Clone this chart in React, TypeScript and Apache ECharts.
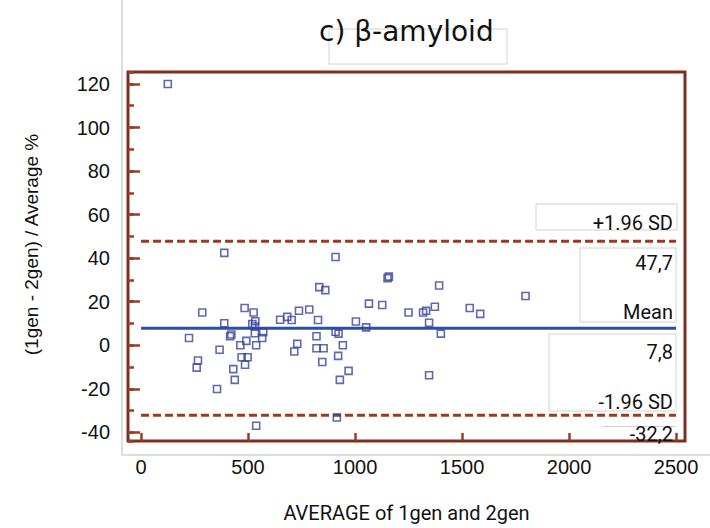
import React, { useEffect, useRef } from "react";
import * as echarts from "echarts";

// Average of 1gen and 2gen (x) and percentage difference (y)
const averageValues: number[] = [
  125,
  389, 286, 224, 389, 422, 416, 484, 526, 534, 520, 532, 571, 532, 566, 492, 464, 538, 367, 266, 260,
  470, 498, 486, 431, 438, 355, 538,
  650, 909, 833, 861, 1158, 1152, 1065, 1127, 1250, 738, 786, 683, 704, 827, 1004, 1052, 909, 923,
  820, 730, 716, 820, 853, 943, 921, 847, 970, 929, 915,
  1318, 1332, 1373, 1393, 1346, 1401, 1346, 1536, 1585, 1797,
];
const percentDiffs: number[] = [
  120,
  42.4, 15, 3.3, 10.1, 4.9, 4.1, 17.1, 15, 11, 9.7, 8.6, 6, 5.5, 3.3, 2, 0, 0, -2.1, -7, -10.3,
  -5.5, -5.5, -9, -11, -15.9, -20.1, -37,
  11.7, 40.5, 26.7, 25.3, 31.5, 30.8, 19.1, 18.5, 15, 15.8, 16.4, 13, 11.6, 11.6, 10.9, 8.2, 6.2, 5.3,
  4.1, 0.6, -2.9, -1.4, -1.4, 0, -4.9, -7.7, -11.8, -15.9, -33.2,
  15, 15.8, 17.7, 27.4, 10.3, 5.3, -13.8, 17.1, 14.4, 22.6,
];

const meanDiff = 7.8;
const upperLimit = 47.7;
const lowerLimit = -32.2;
const lineRange: number[] = [0, 2500];

const xMin = -61;
const xMax = 2542;
const yMin = -44;
const yMax = 125.5;

const titleText = "c) β-amyloid";
const xName = "AVERAGE of 1gen and 2gen";
const yName = "(1gen - 2gen) / Average %";
const upperLabel = "+1.96 SD";
const meanLabel = "Mean";
const lowerLabel = "-1.96 SD";

const fmt = (v: number) => v.toFixed(1).replace(".", ",");

const FRAME = "#7a2f20";
const TICK = "#9a3c24";
const DASH = "#9c3a1f";
const MEAN = "#2c4ea3";
const POINT = "#37449b";
const BOX = "#d2d2d2";

export default function App() {
  const ref = useRef<HTMLDivElement>(null);

  useEffect(() => {
    if (!ref.current) return;
    const chart = echarts.init(ref.current, undefined, { renderer: "svg" });
    const points = averageValues.map((x, i) => [x, percentDiffs[i]]);
    const labelFont = { fontSize: 20, fontFamily: "Roboto", fill: "#111" };

    chart.setOption({
      animation: false,
      backgroundColor: "#fff",
      title: {
        text: titleText,
        left: 314,
        top: 12,
        textStyle: { fontSize: 28, fontWeight: "normal", fontFamily: "DejaVu Sans", color: "#111" },
        z: 10,
      },
      grid: {
        left: 128,
        top: 72,
        right: 25,
        bottom: 83,
        show: true,
        borderColor: FRAME,
        borderWidth: 3,
        backgroundColor: "transparent",
      },
      xAxis: {
        type: "value",
        min: xMin,
        max: xMax,
        minInterval: 500,
        maxInterval: 500,
        splitNumber: 5,
        axisLine: { show: false, onZero: false },
        axisTick: { show: true, inside: true, length: 8, lineStyle: { color: TICK, width: 2.5 } },
        axisLabel: {
          margin: 16,
          fontSize: 20,
          fontFamily: "Liberation Sans",
          color: "#111",
          showMinLabel: false,
          showMaxLabel: false,
          formatter: (v: number) => String(v),
        },
        splitLine: { show: false },
        name: xName,
        nameLocation: "middle",
        nameGap: 62,
        nameTextStyle: { fontSize: 20, fontFamily: "Roboto", color: "#111" },
      },
      yAxis: [
        {
          type: "value",
          min: yMin,
          max: yMax,
          minInterval: 20,
          maxInterval: 20,
          splitNumber: 8,
          axisLine: { show: false, onZero: false },
          axisTick: { show: true, inside: true, length: 12, lineStyle: { color: TICK, width: 2.5 } },
          axisLabel: {
            margin: 18,
            fontSize: 20,
            fontFamily: "Liberation Sans",
            color: "#111",
            showMinLabel: false,
            showMaxLabel: false,
            formatter: (v: number) => String(v),
          },
          splitLine: { show: false },
          name: yName,
          nameLocation: "middle",
          nameGap: 87,
          nameTextStyle: { fontSize: 19, fontFamily: "Liberation Sans", color: "#111", padding: [0, 0, 0, 24] },
        },
        {
          type: "value",
          min: yMin,
          max: yMax,
          minInterval: 10,
          maxInterval: 10,
          splitNumber: 16,
          position: "left",
          axisLine: { show: false, onZero: false },
          axisTick: { show: true, inside: true, length: 6, lineStyle: { color: TICK, width: 2.5 } },
          axisLabel: { show: false },
          splitLine: { show: false },
        },
      ],
      graphic: [
        { type: "line", shape: { x1: 122, y1: 0, x2: 122, y2: 455 }, style: { stroke: BOX, lineWidth: 1.5 }, z: 0 },
        { type: "line", shape: { x1: 122, y1: 455, x2: 710, y2: 455 }, style: { stroke: BOX, lineWidth: 1.5 }, z: 0 },
        { type: "rect", shape: { x: 329, y: 29, width: 178, height: 35 }, style: { fill: "#fff", stroke: BOX, lineWidth: 1 }, z: 0 },
        { type: "rect", shape: { x: 536, y: 204, width: 141, height: 26 }, style: { fill: "#fff", stroke: BOX, lineWidth: 1 }, z: 5 },
        { type: "rect", shape: { x: 580, y: 248, width: 96, height: 74 }, style: { fill: "#fff", stroke: BOX, lineWidth: 1 }, z: 5 },
        { type: "rect", shape: { x: 549, y: 334, width: 127, height: 77 }, style: { fill: "#fff", stroke: BOX, lineWidth: 1 }, z: 5 },
        { type: "line", shape: { x1: 603, y1: 426.5, x2: 676, y2: 426.5 }, style: { stroke: BOX, lineWidth: 1 }, z: 5 },
        { type: "text", x: 673, y: 223, z: 6, style: { ...labelFont, text: upperLabel, align: "right", verticalAlign: "middle" } },
        { type: "text", x: 673, y: 263, z: 6, style: { ...labelFont, text: fmt(upperLimit), align: "right", verticalAlign: "middle" } },
        { type: "text", x: 673, y: 312, z: 6, style: { ...labelFont, text: meanLabel, align: "right", verticalAlign: "middle" } },
        { type: "text", x: 673, y: 352, z: 6, style: { ...labelFont, text: fmt(meanDiff), align: "right", verticalAlign: "middle" } },
        { type: "text", x: 673, y: 402, z: 6, style: { ...labelFont, text: lowerLabel, align: "right", verticalAlign: "middle" } },
        { type: "text", x: 673, y: 434, z: 6, style: { ...labelFont, text: fmt(lowerLimit), align: "right", verticalAlign: "middle" } },
      ],
      series: [
        {
          type: "line",
          data: lineRange.map((x) => [x, upperLimit]),
          symbol: "none",
          lineStyle: { color: DASH, width: 3, type: [8, 4] },
          z: 2,
        },
        {
          type: "line",
          data: lineRange.map((x) => [x, lowerLimit]),
          symbol: "none",
          lineStyle: { color: DASH, width: 3, type: [8, 4] },
          z: 2,
        },
        {
          type: "line",
          data: lineRange.map((x) => [x, meanDiff]),
          symbol: "none",
          lineStyle: { color: MEAN, width: 3 },
          z: 2,
        },
        {
          type: "scatter",
          data: points,
          symbol: "rect",
          symbolSize: 7,
          itemStyle: { color: "rgba(255,255,255,0)", borderColor: POINT, borderWidth: 1.6 },
          z: 3,
        },
      ],
    });

    return () => chart.dispose();
  }, []);

  return (
    <div
      ref={ref}
      style={{ position: "absolute", left: 0, top: 0, width: 710, height: 528 }}
    />
  );
}
